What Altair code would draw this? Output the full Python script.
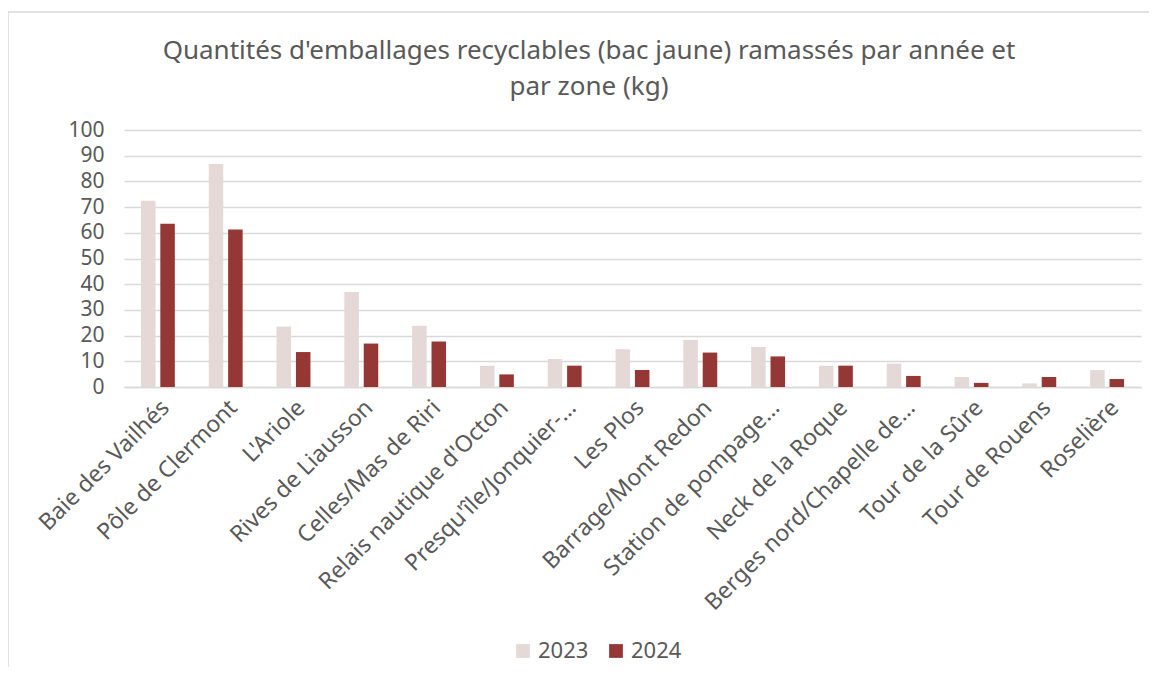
import altair as alt
import pandas as pd

zones = [
    "Baie des Vailhés", "Pôle de Clermont", "L'Ariole", "Rives de Liausson",
    "Celles/Mas de Riri", "Relais nautique d'Octon", "Presqu'île/Jonquier-…",
    "Les Plos", "Barrage/Mont Redon", "Station de pompage…", "Neck de la Roque",
    "Berges nord/Chapelle de…", "Tour de la Sûre", "Tour de Rouens", "Roselière",
]
v2023 = [72.5, 86.8, 23.5, 37.0, 23.8, 8.3, 10.9, 14.7, 18.3, 15.6, 8.3, 9.1, 3.9, 1.4, 6.6]
v2024 = [63.5, 61.3, 13.6, 16.9, 17.7, 4.9, 8.3, 6.6, 13.4, 11.9, 8.3, 4.3, 1.6, 3.9, 3.1]
years = ["2023", "2024"]
colors = ["#E4D9D7", "#953735"]
title_lines = ["Quantités d'emballages recyclables (bac jaune) ramassés par année et",
               "par zone (kg)"]

rows = []
for z, a, b in zip(zones, v2023, v2024):
    rows.append({"zone": z, "annee": years[0], "kg": a})
    rows.append({"zone": z, "annee": years[1], "kg": b})
df = pd.DataFrame(rows)

FONT = "Noto Sans"
GREY = "#595959"

bars = alt.Chart(df).mark_bar().encode(
    x=alt.X("zone:N", sort=zones, title=None,
            scale=alt.Scale(paddingInner=0.5, paddingOuter=0.25),
            axis=alt.Axis(labelAngle=-45, labelAlign="right", labelBaseline="top",
                          labelFontSize=23, labelColor=GREY, labelFont=FONT,
                          labelPadding=9, ticks=False, domainColor="#D9D9D9",
                          domainWidth=1.5, labelLimit=400)),
    xOffset=alt.XOffset("annee:N", sort=years, scale=alt.Scale(paddingInner=0.25)),
    y=alt.Y("kg:Q", title=None,
            scale=alt.Scale(domain=[0, 100]),
            axis=alt.Axis(values=list(range(0, 101, 10)), labelFontSize=21,
                          labelColor=GREY, labelFont=FONT, labelPadding=20,
                          ticks=False, domain=False, gridColor="#D9D9D9",
                          gridWidth=1.5)),
    color=alt.Color("annee:N", sort=years,
                    scale=alt.Scale(domain=years, range=colors),
                    legend=alt.Legend(title=None, orient="none", direction="horizontal",
                                      legendX=388, legendY=510, symbolType="square",
                                      symbolSize=190, symbolStrokeWidth=0,
                                      labelFontSize=22, labelColor=GREY, labelFont=FONT,
                                      columnPadding=16, labelOffset=4)),
)

frame = alt.Chart(pd.DataFrame({"a": [0]})).mark_rect(
    fill="transparent", stroke="#D9D9D9", strokeWidth=1.5
).encode(x=alt.value(-116), x2=alt.value(1300), y=alt.value(-118), y2=alt.value(800))

title = alt.Chart(pd.DataFrame({"a": [0]})).mark_text(
    text=title_lines, font=FONT, fontSize=26, color=GREY, align="center",
    baseline="top", lineHeight=36
).encode(x=alt.value(465), y=alt.value(-92))

chart = alt.layer(frame, title, bars).properties(
    width=1017, height=257,
    autosize=alt.AutoSizeParams(type="none"),
    padding={"left": 116, "top": 122, "right": 8, "bottom": 280},
).configure_view(stroke=None)

chart.save("out.html", embed_options={"renderer": "svg", "actions": False})
